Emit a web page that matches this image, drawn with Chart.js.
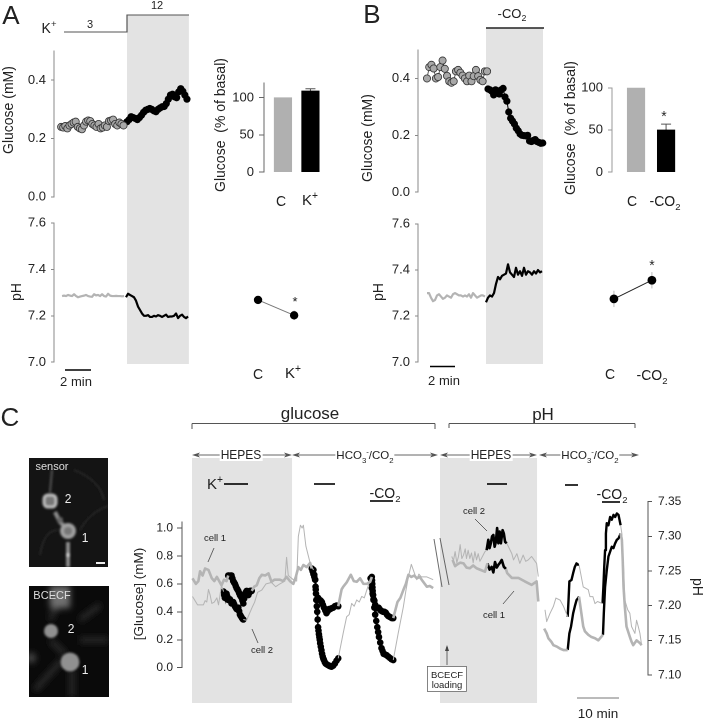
<!DOCTYPE html>
<html><head><meta charset="utf-8">
<script src="https://cdn.jsdelivr.net/npm/chart.js@4"></script>
<style>
html,body{margin:0;padding:0;background:#fff;width:706px;height:720px;overflow:hidden}
#stage{position:relative;width:706px;height:720px;font-family:"Liberation Sans",Arial,sans-serif;color:#222}
canvas{position:absolute;display:block}
.t{position:absolute;white-space:nowrap;line-height:1;transform-origin:center}
.t sub,.t sup{font-size:68%;line-height:0}
svg{position:absolute;left:0;top:0}
</style></head><body><div id="stage"></div>
<script>
// ---------- Panel A ----------
const aGlucoseBasal=[.24,.238,.243,.235,.245,.25,.255,.258,.24,.235,.232,.245,.258,.262,.26,.25,.245,.24,.25,.235,.238,.245,.24,.26,.262,.265,.25,.245,.255,.25,.245];
const aGlucoseK=[.258,.265,.275,.272,.269,.265,.272,.28,.29,.297,.3,.303,.3,.295,.292,.3,.305,.309,.31,.32,.335,.349,.352,.343,.34,.36,.371,.362,.349,.335];
const aPhBasal=[7.285,7.287,7.285,7.29,7.287,7.285,7.293,7.285,7.28,7.283,7.285,7.287,7.29,7.285,7.283,7.282,7.293,7.288,7.29,7.285,7.293,7.285,7.283,7.295,7.287,7.285,7.285,7.286,7.285,7.285,7.284,7.285];
const aPhK=[7.28,7.295,7.29,7.285,7.28,7.265,7.24,7.225,7.21,7.2,7.2,7.203,7.195,7.195,7.2,7.197,7.203,7.2,7.195,7.2,7.205,7.195,7.197,7.197,7.2,7.21,7.19,7.2,7.205,7.195,7.19,7.197];
const aBarLabels=['C','K+'];const aBars=[100,109];const aBarErr=[0,3];
const aDotPh=[7.275,7.21];const aDotErr=[.008,.02];
const aBand=[5.62,10.38];
// ---------- Panel B ----------
const bGlucoseBasal=[.4,.44,.448,.435,.4,.405,.44,.463,.434,.409,.39,.385,.39,.425,.43,.42,.41,.4,.39,.41,.39,.408,.43,.408,.395,.39,.425,.425];
const bGlucoseCO2=[.363,.36,.355,.342,.36,.355,.345,.36,.365,.335,.32,.282,.26,.25,.24,.225,.216,.205,.2,.199,.198,.2,.18,.178,.182,.185,.178,.175,.172,.173];
const bPhBasal=[7.3,7.3,7.28,7.265,7.27,7.29,7.295,7.285,7.275,7.28,7.29,7.285,7.28,7.295,7.3,7.295,7.29,7.29,7.285,7.29,7.285,7.295,7.28,7.3,7.29,7.28,7.285,7.29,7.29,7.285];
const bPhCO2=[7.26,7.28,7.29,7.285,7.3,7.34,7.37,7.36,7.375,7.38,7.385,7.425,7.39,7.38,7.37,7.41,7.38,7.395,7.375,7.41,7.38,7.395,7.39,7.38,7.395,7.385,7.4,7.39,7.395];
const bBarLabels=['C','-CO2'];const bBars=[100,50];const bBarErr=[0,7];
const bDotPh=[7.279,7.359];const bDotErr=[.035,.035];
const bBand=[5.44,10];
// ---------- Panel C glucose ----------
const gBand=[2.38,26.2];
const c1aT=[2.5,3.3,3.9,4.3,4.9,5.5,6.3,7.1,7.7,8.3,9.4,10,10.6,11];
const c1aV=[.64,.6,.62,.69,.66,.71,.7,.64,.62,.65,.59,.63,.62,.66];
const c1kT=[11,11.2,11.4,11.6,11.8,12,12.2,12.4,12.6,12.8,13,13.2,13.4,13.6,13.8,14,14.2,14.4,14.6,14.8,15,15.2,15.4,15.6,15.8,16,16.2,16.4,16.6];
const c1kV=[.66,.66,.655,.66,.66,.64,.62,.61,.6,.585,.57,.56,.55,.535,.52,.51,.5,.48,.46,.495,.53,.54,.55,.535,.52,.535,.55,.55,.55];
const c1bT=[16.6,17.2,17.8,18.4,19,19.8,20.6,21.3,22,23.3,24.1,24.9,25.7,26.5,27.1,27.7,28.3,28.9,29.7,30.5,30.9];
const c1bV=[.55,.58,.59,.64,.665,.66,.675,.615,.63,.63,.62,.65,.62,.6,.65,.72,.7,.735,.72,.75,.71];
const c1eT=[30.9,31.1,31.3,31.5,31.7,31.8,31.9,32,32.2,32.4,32.6,32.8,33.05,33.3,33.55,33.8,34.1,34.4,34.7,35,35.3,35.6,36,36.4,36.8,37.2];
const c1eV=[.71,.69,.67,.65,.63,.58,.53,.485,.49,.5,.49,.485,.48,.47,.45,.43,.41,.39,.405,.42,.42,.425,.43,.44,.445,.44];
const c1cT=[37.2,38,38.4,39.2,40.2,40.9,41.6,42.4,43.2,44,44.8,45.2];
const c1cV=[.44,.56,.58,.61,.665,.62,.615,.64,.6,.6,.615,.65];
const c1fT=[45.2,45.25,45.3,45.35,45.4,45.5,45.6,45.7,45.8,46,46.3,46.55,46.8,47.05,47.3,47.6,47.9,48.2,48.5,48.8,49.1,49.4,49.7,50,50.3];
const c1fV=[.65,.625,.6,.575,.55,.52,.49,.485,.48,.45,.425,.43,.43,.42,.41,.405,.4,.4,.395,.38,.37,.365,.36,.355,.355];
const c1dT=[50.3,51.3,52,52.7,53.3,53.9,54.6,55.3,55.9,56.6,57.3,58.3,59,59.8];
const c1dV=[.355,.47,.5,.556,.6,.665,.65,.66,.64,.65,.62,.58,.585,.57];
const c2aT=[2.5,3.3,3.7,4.3,5.1,5.5,5.9,6.3,6.7,7.1,7.7,8.3,8.7,9.4,9.9];
const c2aV=[.51,.47,.45,.45,.45,.48,.47,.56,.52,.46,.47,.5,.45,.59,.545];
const c2kT=[9.9,10.05,10.2,10.4,10.6,10.8,11,11.2,11.4,11.6,11.8,12,12.2,12.4,12.6,12.8,13,13.2,13.4,13.6,13.8,14,14.2,14.4,14.6];
const c2kV=[.545,.52,.5,.515,.53,.51,.485,.49,.49,.475,.46,.465,.47,.455,.44,.43,.42,.425,.43,.405,.38,.37,.36,.35,.345];
const c2bT=[14.6,15.4,16.6,17.3,18,19,20,21.3,22.3,23.3,24.5,24.9,25.3,26.5,27.3,27.7,28.2,28.6,28.9,29.5,30.5,31.3];
const c2bV=[.345,.34,.425,.47,.54,.556,.6,.61,.58,.6,.62,.79,.66,.63,.62,.94,1.02,1,1.02,.87,.75,.7];
const c2eT=[31.3,31.5,31.7,31.85,32,32.1,32.2,32.3,32.4,32.5,32.6,32.7,32.8,32.9,33.05,33.2,33.35,33.5,33.65,33.8,34,34.2,34.4,34.7,35,35.3,35.6,36,36.4,36.8,37.2];
const c2eV=[.7,.665,.63,.56,.485,.44,.4,.345,.29,.265,.24,.22,.2,.175,.15,.125,.1,.08,.065,.055,.04,.03,.025,.02,.015,.01,.007,.015,.03,.05,.067];
const c2cT=[37.2,38.4,39.2,39.8,40.4,41,41.6,42.2,42.8,43.4,44.9];
const c2cV=[.067,.25,.365,.38,.46,.44,.485,.47,.51,.5,.64];
const c2fT=[44.9,45.05,45.2,45.4,45.6,45.8,46,46.25,46.5,46.7,46.9,47.2,47.5,47.75,48,48.35,48.7,49.1,49.5,49.9,50.3];
const c2fV=[.64,.605,.57,.53,.485,.43,.38,.335,.29,.255,.22,.18,.14,.12,.1,.095,.09,.08,.07,.06,.055];
const c2dT=[50.3,51.5,52.7,53.3,53.9,54.6,55.3,55.9,56.4,57,58.3,59.8];
const c2dV=[.055,.25,.435,.55,.65,.74,.68,.63,.67,.65,.65,.63];
// ---------- Panel C pH ----------
const pBand=[0,23.1];
const p2aT=[2.8,3.2,3.6,4,4.4,4.8,5.2,5.6,6,6.3,6.7,7.1,7.5,7.9,8.3,8.7,9.1,9.5,10.1,10.7,11.1];
const p2aV=[7.271,7.265,7.278,7.262,7.271,7.288,7.268,7.273,7.282,7.268,7.28,7.268,7.276,7.262,7.278,7.266,7.275,7.264,7.271,7.278,7.28];
const p2kT=[11.1,11.5,11.8,12.1,12.4,12.7,13,13.3,13.6,13.9,14.2,14.5,14.9,15.2,15.5,15.9];
const p2kV=[7.28,7.295,7.283,7.29,7.3,7.302,7.285,7.292,7.312,7.29,7.307,7.29,7.309,7.304,7.292,7.29];
const p2bT=[15.9,16.3,17.1,17.5,18.3,19,19.8,20.4,21,21.8,22.4,23,23.4];
const p2bV=[7.29,7.285,7.275,7.266,7.275,7.261,7.273,7.264,7.266,7.271,7.266,7.261,7.242];
const p1aT=[3,3.6,4,4.8,5.6,6.3,7.1,7.9,8.7,9.5,10.7,11.3];
const p1aV=[7.266,7.257,7.259,7.262,7.261,7.255,7.254,7.258,7.254,7.252,7.249,7.261];
const p1kT=[11.3,11.8,12.3,12.7,13.1,13.5,13.9,14.3,14.7,15.2,15.7];
const p1kV=[7.261,7.252,7.256,7.248,7.263,7.255,7.259,7.262,7.266,7.256,7.253];
const p1bT=[15.7,16,17.1,18.7,20.2,21.8,23,23.4];
const p1bV=[7.253,7.247,7.24,7.24,7.235,7.23,7.235,7.206];
const q2aT=[25,25.4,26.2,27,27.6,28.6,29.4,30.4];
const q2aV=[7.194,7.177,7.189,7.199,7.211,7.208,7.199,7.184];
const q2kT=[30.4,30.6,30.8,31.3,31.7,32.1,32.5,32.9,33.1];
const q2kV=[7.184,7.208,7.235,7.237,7.247,7.256,7.261,7.259,7.259];
const q2bT=[33.1,34.1,35.3,35.7,36.4,36.9,37.5,38.7];
const q2bV=[7.259,7.227,7.223,7.213,7.213,7.203,7.206,7.203];
const q2eT=[38.7,38.9,39.1,39.3,39.5,39.7,40.1,40.5,40.9,41.3,41.7,42.1,42.5,43];
const q2eV=[7.203,7.227,7.256,7.28,7.304,7.319,7.316,7.328,7.324,7.331,7.328,7.333,7.331,7.316];
const q2cT=[43,43.3,43.5,43.7,44,44.7,45.2,45.6,46,46.4,46.8,47.2,47.6,48];
const q2cV=[7.316,7.304,7.28,7.256,7.208,7.194,7.189,7.17,7.165,7.16,7.179,7.17,7.16,7.143];
const q1aT=[24.8,25.4,25.8,26.5,27,27.8,28.6,29.4,30.4];
const q1aV=[7.167,7.16,7.153,7.148,7.143,7.141,7.138,7.136,7.136];
const q1kT=[30.4,30.8,31.2,31.7,32.1,32.5,32.9,33.1];
const q1kV=[7.136,7.16,7.17,7.189,7.199,7.208,7.211,7.213];
const q1bT=[33.1,34.1,34.5,35.3,36,36.9,37.7,38.8];
const q1bV=[7.213,7.17,7.163,7.158,7.155,7.153,7.15,7.158];
const q1eT=[38.8,39,39.3,39.7,40.1,40.5,40.9,41.3,41.7,42.1,42.5,43];
const q1eV=[7.158,7.189,7.227,7.251,7.271,7.278,7.285,7.283,7.29,7.295,7.297,7.304];
const q1cT=[43,43.3,43.5,43.7,44,44.4,45.2,45.6,46,46.8,47.6,48];
const q1cV=[7.304,7.295,7.266,7.227,7.199,7.17,7.155,7.148,7.143,7.15,7.146,7.143];

const stage=document.getElementById('stage');
const FONT='"Liberation Sans",Arial,sans-serif';
const series=(t0,dt,v)=>v.map((y,i)=>({x:t0+i*dt,y}));
const zip=(t,v)=>t.map((x,i)=>({x,y:v[i]}));

const bandPlugin={id:'band',beforeDatasetsDraw(c,a,o){
  if(!o.range)return;const x=c.scales.x,ctx=c.ctx;
  ctx.save();ctx.fillStyle='#e3e3e3';
  const l=x.getPixelForValue(o.range[0]),r=x.getPixelForValue(o.range[1]);
  ctx.fillRect(l,o.top||0,r-l,(o.bottom||c.height)-(o.top||0));ctx.restore();}};
const errPlugin={id:'err',beforeDatasetsDraw(c,a,o){
  if(!o.items)return;const ctx=c.ctx;ctx.save();ctx.strokeStyle=o.color||'#444';ctx.lineWidth=1;
  o.items.forEach(e=>{const x=c.scales.x.getPixelForValue(e.x);
    const y1=c.scales.y.getPixelForValue(e.lo),y2=c.scales.y.getPixelForValue(e.hi);
    ctx.beginPath();ctx.moveTo(x,y1);ctx.lineTo(x,y2);
    if(o.cap){ctx.moveTo(x-o.cap,y2);ctx.lineTo(x+o.cap,y2);}ctx.stroke();});ctx.restore();}};

function yAxis(o){return {type:'linear',display:o.hide?false:true,position:o.right?'right':'left',min:o.min,max:o.max,
  border:{display:!o.hide,color:o.color||'#888',width:o.bw||1},
  grid:{drawOnChartArea:false,drawTicks:true,tickLength:o.tl||3,color:o.color||'#888'},
  ticks:{stepSize:o.step,includeBounds:false,padding:o.pad||5,color:'#222',font:{family:FONT,size:o.size||13},
    autoSkip:false,maxRotation:0,callback:v=>o.dec===undefined?v:Number(v).toFixed(o.dec)},
  afterFit:s=>{s.width=o.w}};}
function mk(rect,plot,type,datasets,xr,yopt,plugins){
  const c=document.createElement('canvas');
  c.width=rect.r-rect.l;c.height=rect.b-rect.t;
  c.style.left=rect.l+'px';c.style.top=rect.t+'px';c.style.width=c.width+'px';c.style.height=c.height+'px';
  stage.appendChild(c);
  const right=!!yopt.right;
  yopt.w=right?rect.r-plot.r:plot.l-rect.l;
  new Chart(c,{type,data:{datasets},options:{responsive:false,animation:false,events:[],devicePixelRatio:2,
    layout:{autoPadding:false,padding:{left:right?plot.l-rect.l:0,right:right?0:rect.r-plot.r,top:plot.t-rect.t,bottom:rect.b-plot.b}},
    plugins:Object.assign({legend:{display:false},tooltip:{enabled:false},title:{display:false}},plugins||{}),
    scales:{x:{type:'linear',display:false,offset:false,min:xr[0],max:xr[1]},y:yAxis(yopt)}},
    plugins:[bandPlugin,errPlugin]});
}
const dot=(data,fill)=>({data,showLine:true,borderColor:'#333',borderWidth:.8,backgroundColor:fill,pointBackgroundColor:fill,pointBorderColor:'#333',pointBorderWidth:.8,pointRadius:3.6,tension:0,clip:false});
const blk=(data)=>({data,showLine:true,borderColor:'#000',borderWidth:1,pointBackgroundColor:'#000',pointBorderColor:'#000',pointRadius:3.6,pointBorderWidth:0,tension:0,clip:false});
const ln=(data,color,w)=>({data,showLine:true,borderColor:color,borderWidth:w,pointRadius:0,tension:0,clip:false,borderJoinStyle:'round'});
const mrk=(data,r)=>({data,showLine:true,borderColor:'#000',borderWidth:1.5,pointRadius:r||3.3,pointBackgroundColor:'#000',pointBorderWidth:0,tension:0,clip:false});
const GR='#b4b4b4';

// Panel A charts
mk({l:0,r:200,t:15,b:210},{l:54,r:195,t:51,b:197},'line',[
  dot(series(.55,.16,aGlucoseBasal),'#a8a8a8'),blk(series(5.62,.159,aGlucoseK))],
  [0,10.85],{min:0,max:.5,step:.2,dec:1},{band:{range:aBand}});
mk({l:0,r:200,t:210,b:365+10},{l:54,r:195,t:223,b:365},'line',[
  ln(series(.62,.154,aPhBasal),GR,2.2),ln(series(5.54,.154,aPhK),'#000',2.2)],
  [0,10.85],{min:7,max:7.6,step:.2,dec:1},{band:{range:aBand,bottom:154}});
mk({l:228,r:330,t:70,b:185},{l:264,r:325,t:77,b:175},'bar',[{
  data:aBars.map((y,i)=>({x:i+1,y})),backgroundColor:['#b0b0b0','#000'],barThickness:17.5,
  }],[.31,2.53],{min:0,max:120,step:50,tl:5,color:'#666'},
  {err:{items:aBars.map((y,i)=>({x:i+1,lo:y,hi:y+aBarErr[i]})).filter((e,i)=>aBarErr[i]),cap:5,color:'#555'}});
mk({l:240,r:310,t:223,b:365},{l:240,r:310,t:223,b:365},'line',[
  {data:aDotPh.map((y,i)=>({x:i+1,y})),showLine:true,borderColor:'#777',borderWidth:1,pointRadius:4.2,pointBackgroundColor:'#000',pointBorderWidth:0,tension:0}],
  [.5,2.44],{min:7,max:7.6,step:.2,hide:true},
  {err:{items:aDotPh.map((y,i)=>({x:i+1,lo:y-aDotErr[i],hi:y+aDotErr[i]})),color:'#aaa'}});

// Panel B charts
mk({l:375,r:560,t:28,b:205},{l:418,r:550,t:50,b:196},'line',[
  dot(series(.72,.178,bGlucoseBasal),'#a8a8a8'),blk(series(5.6,.151,bGlucoseCO2))],
  [0,10.56],{min:0,max:.5,step:.2,dec:1},{band:{range:bBand}});
mk({l:375,r:560,t:205,b:375},{l:418,r:550,t:224,b:364},'line',[
  ln(series(.72,.16,bPhBasal),GR,2.2),ln(series(5.44,.16,bPhCO2),'#000',2.2)],
  [0,10.56],{min:7,max:7.6,step:.2,dec:1},{band:{range:bBand,bottom:159}});
mk({l:578,r:690,t:75,b:185},{l:612,r:685,t:82,b:179},'bar',[{
  data:bBars.map((y,i)=>({x:i+1,y})),backgroundColor:['#b0b0b0','#000'],barThickness:17.5,
  }],[.2,2.63],{min:0,max:100,step:50,tl:4,color:'#999'},
  {err:{items:bBars.map((y,i)=>({x:i+1,lo:y,hi:y+bBarErr[i]})).filter((e,i)=>bBarErr[i]),cap:5,color:'#555'}});
mk({l:590,r:680,t:224,b:364},{l:590,r:680,t:224,b:364},'line',[
  {data:bDotPh.map((y,i)=>({x:i+1,y})),showLine:true,borderColor:'#222',borderWidth:1,pointRadius:4.4,pointBackgroundColor:'#000',pointBorderWidth:0,tension:0}],
  [.37,2.74],{min:7,max:7.6,step:.2,hide:true},
  {err:{items:bDotPh.map((y,i)=>({x:i+1,lo:y-bDotErr[i],hi:y+bDotErr[i]})),color:'#bbb'}});

// Panel C charts
mk({l:150,r:440,t:455,b:703},{l:182,r:440,t:522,b:667.7},'line',[
  ln(zip(c2aT,c2aV),GR,1),ln(zip(c2bT,c2bV),GR,1),ln(zip(c2cT,c2cV),GR,1),ln(zip(c2dT,c2dV),GR,1),
  ln(zip(c1aT,c1aV),GR,2.6),ln(zip(c1bT,c1bV),GR,2.6),ln(zip(c1cT,c1cV),GR,2.6),ln(zip(c1dT,c1dV),GR,2.6),
  mrk(zip(c2kT,c2kV)),mrk(zip(c1kT,c1kV)),mrk(zip(c1eT,c1eV)),mrk(zip(c2eT,c2eV)),mrk(zip(c1fT,c1fV)),mrk(zip(c2fT,c2fV))],
  [0,61.43],{min:0,max:1.043,step:.2,dec:1,size:12,tl:5,color:'#555',pad:4},{band:{range:gBand,top:3}});
mk({l:440,r:706,t:455,b:703},{l:440,r:648,t:501.7,b:675},'line',[
  ln(zip(p2aT,p2aV),GR,1),ln(zip(p2bT,p2bV),GR,1),ln(zip(q2aT,q2aV),GR,1),ln(zip(q2bT,q2bV),GR,1),ln(zip(q2cT,q2cV),GR,1),
  ln(zip(p1aT,p1aV),GR,2.6),ln(zip(p1bT,p1bV),GR,2.6),ln(zip(q1aT,q1aV),GR,2.6),ln(zip(q1bT,q1bV),GR,2.6),ln(zip(q1cT,q1cV),GR,2.6),
  ln(zip(p2kT,p2kV),'#000',2.6),ln(zip(p1kT,p1kV),'#000',2.6),ln(zip(q2kT,q2kV),'#000',2.4),ln(zip(q1kT,q1kV),'#000',2.4),ln(zip(q2eT,q2eV),'#000',2.4),ln(zip(q1eT,q1eV),'#000',2.4)],
  [0,49.52],{right:true,min:7.1,max:7.35,step:.05,dec:2,size:12,tl:4,color:'#555',pad:6},{band:{range:pBand,top:3}});

// Decorations (brackets, rules, micrographs)
const NS='http://www.w3.org/2000/svg';
const arrow=(x1,x2,y)=>`<line x1="${x1+3}" y1="${y}" x2="${x2-3}" y2="${y}" stroke="#666" stroke-width="1"/>
<path d="M${x1} ${y}l8 -2.5l-2 2.5l2 2.5zM${x2} ${y}l-8 -2.5l2 2.5l-2 2.5z" fill="#555"/>`;
const svg=`<svg xmlns="${NS}" width="706" height="720" viewBox="0 0 706 720">
<defs><filter id="b1" x="-30%" y="-30%" width="160%" height="160%"><feGaussianBlur stdDeviation="1.3"/></filter>
<filter id="b2" x="-30%" y="-30%" width="160%" height="160%"><feGaussianBlur stdDeviation="3"/></filter>
<clipPath id="ci1"><rect x="29" y="458" width="79" height="109"/></clipPath>
<clipPath id="ci2"><rect x="29" y="586" width="80" height="111"/></clipPath></defs>
<polyline points="64,32 127,32 127,15 189,15" fill="none" stroke="#555" stroke-width="1.2"/>
<line x1="486" y1="28" x2="544" y2="28" stroke="#222" stroke-width="1.3"/>
<line x1="65" y1="370" x2="91" y2="370" stroke="#000" stroke-width="1.5"/>
<line x1="430" y1="366.5" x2="455" y2="366.5" stroke="#000" stroke-width="1.5"/>
<path d="M192 429V423.5H435V429M449 428V423.5H635V428" fill="none" stroke="#555" stroke-width="1"/>
${arrow(192,292,455)}${arrow(292,438,455)}${arrow(440,537,455)}${arrow(539,639,455)}
<g stroke="#000" stroke-width="1.6"><line x1="224" y1="484" x2="248" y2="484"/><line x1="314" y1="484" x2="335" y2="484"/><line x1="370" y1="501" x2="393" y2="501"/><line x1="487" y1="484" x2="507" y2="484"/><line x1="565" y1="485" x2="578" y2="485"/><line x1="602" y1="502" x2="620" y2="502"/></g>
<g stroke="#444" stroke-width=".8"><line x1="214" y1="548" x2="208" y2="562"/><line x1="252" y1="629" x2="258" y2="643"/><line x1="475" y1="519" x2="487" y2="531"/><line x1="503" y1="604" x2="514" y2="591"/><line x1="434" y1="539" x2="442" y2="587"/><line x1="440" y1="538" x2="449" y2="585"/></g>
<line x1="447" y1="647" x2="447" y2="665" stroke="#444" stroke-width=".8"/><path d="M447 645l-2 6h4z" fill="#444"/>
<rect x="427.5" y="666.5" width="39" height="25" fill="#fff" stroke="#666" stroke-width=".8"/>
<line x1="577" y1="698" x2="619" y2="698" stroke="#777" stroke-width="1"/>
<g clip-path="url(#ci1)"><rect x="29" y="458" width="79" height="109" fill="#141414"/>
<g filter="url(#b1)" fill="none"><path d="M52 470L50 492" stroke-width="2" stroke="#555"/><path d="M55 512L60 522L68 530M68 542L68 567" stroke-width="4" stroke="#8a8a8a"/><path d="M80 530Q90 512 108 506M58 530Q44 530 40 555M74 470Q100 480 104 500" stroke-width="1.2" stroke="#333"/>
<rect x="44" y="495" width="12" height="12" rx="4" stroke-width="3" fill="#777" stroke="#bdbdbd"/><circle cx="68" cy="531" r="6" stroke-width="4" fill="#777" stroke="#a0a0a0"/><circle cx="60" cy="520" r="3" fill="#666"/><circle cx="68" cy="555" r="2" fill="#ccc"/></g>
<rect x="96" y="562" width="9" height="2" fill="#eee"/></g>
<g clip-path="url(#ci2)"><rect x="29" y="586" width="80" height="111" fill="#0a0a0a"/>
<g filter="url(#b2)"><path d="M72 670L72 697M66 655L50 640M62 660L35 690M80 620L100 605M80 640L108 640M50 620L60 600" stroke="#2e2e2e" stroke-width="5" fill="none"/><rect x="50" y="586" width="20" height="22" fill="#707070"/><circle cx="31" cy="658" r="5" fill="#4a4a4a"/></g>
<g filter="url(#b1)"><circle cx="51" cy="631" r="7" fill="#909090"/><circle cx="70" cy="662" r="9.5" fill="#909090"/></g></g>
</svg>`;
stage.insertAdjacentHTML('beforeend',svg);

function lab(html,x,y,size,opt){opt=opt||{};
  const d=document.createElement('div');d.className='t';d.innerHTML=html;
  d.style.left=x+'px';d.style.top=y+'px';d.style.fontSize=size+'px';
  d.style.transform=`translate(-50%,-50%) rotate(${opt.rot||0}deg)`;
  if(opt.color)d.style.color=opt.color;
  if(opt.bg)d.style.background=opt.bg,d.style.padding='0 1px';
  d.style.textAlign='center';
  stage.appendChild(d);}
lab('A',11,15,26);lab('B',372,14,26);lab('C',10,417,26);
lab('K<sup>+</sup>',49,28,14);lab('3',90,24,11);lab('12',157,5,11);
lab('-CO<sub>2</sub>',512,13,13);
lab('Glucose (mM)',8,110,14,{rot:-90});lab('Glucose (mM)',367,138,14,{rot:-90});
lab('pH',16,292,14,{rot:-90});lab('pH',378,292,14,{rot:-90});
lab('Glucose&nbsp; (% of basal)',220,125,14,{rot:-90});lab('Glucose&nbsp; (% of basal)',570,128,14,{rot:-90});
lab('C',281,201,14);lab('K<sup>+</sup>',310,199,15);
lab('C',632,201,14);lab('-CO<sub>2</sub>',665,201,14);
lab('*',295,301,13);lab('*',664,116,14);lab('*',652,265,14);
lab('C',258,374,14);lab('K<sup>+</sup>',293,372,15);
lab('C',610,374,14);lab('-CO<sub>2</sub>',652,375,14);
lab('2 min',76,381,13);lab('2 min',444,380,13);
lab('glucose',310,413,17);lab('pH',543,414,17);
lab('HEPES',241,455,12,{bg:'#fff'});lab('HCO<sub>3</sub><sup>-</sup>/CO<sub>2</sub>',365,456,11.5,{bg:'#fff'});
lab('HEPES',491,455,12,{bg:'#fff'});lab('HCO<sub>3</sub><sup>-</sup>/CO<sub>2</sub>',590,456,11.5,{bg:'#fff'});
lab('K<sup>+</sup>',215,483,15);lab('-CO<sub>2</sub>',385,493,14);lab('-CO<sub>2</sub>',612,494,14);
lab('cell 1',215,538,9.5);lab('cell 2',262,650,9.5);lab('cell 2',474,511,9.5);lab('cell 1',494,615,9.5);
lab('BCECF<br>loading',447,679,9.5);
lab('[Glucose] (mM)',139,594,13.5,{rot:-90});lab('pH',698,587,14,{rot:90});
lab('10 min',598,714,13.5);
lab('sensor',52,466,11,{color:'#ddd'});lab('2',68,499,12,{color:'#eee'});lab('1',85,538,12,{color:'#eee'});
lab('BCECF',52,595,11,{color:'#ddd'});lab('2',71,629,12,{color:'#eee'});lab('1',85,670,12,{color:'#eee'});
</script></body></html>
